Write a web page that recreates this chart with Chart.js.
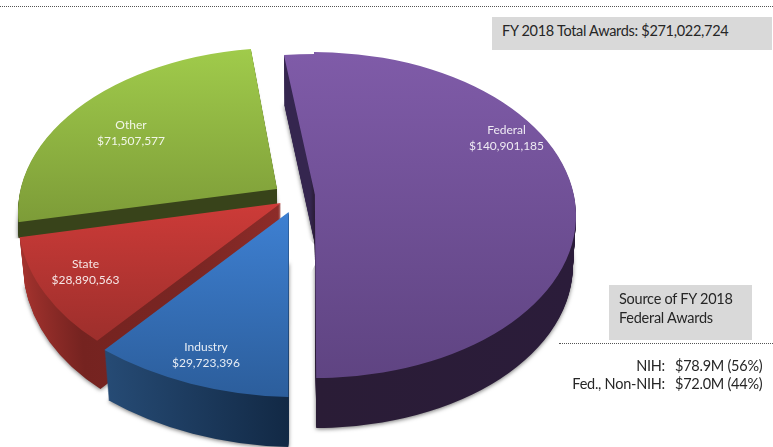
<!DOCTYPE html>
<html>
<head>
<meta charset="utf-8">
<script src="https://cdn.jsdelivr.net/npm/chart.js@4"></script>
<style>
html,body{margin:0;padding:0;background:#fff;width:773px;height:447px;overflow:hidden}
#wrap{position:relative;width:773px;height:447px;font-family:Lato,"Open Sans",sans-serif;color:#262626}
canvas{position:absolute;left:0;top:0}
.dot{position:absolute;height:0;border-top:1px dotted #555}
.box{position:absolute;background:#d9d9d9;box-sizing:border-box}
.t{position:absolute;white-space:nowrap;font-size:14.5px;line-height:18px;letter-spacing:-0.25px}
</style>
</head>
<body>
<div id="wrap">
<canvas id="c" width="773" height="447"></canvas>
<div class="dot" style="left:0;top:6px;width:773px"></div>
<div class="box" style="left:492px;top:17px;width:280px;height:33px"></div>
<div class="t" id="total" style="left:502px;top:22px;letter-spacing:-0.3px"></div>
<div class="box" style="left:609px;top:285px;width:143px;height:55px"></div>
<div class="t" id="src1" style="left:619px;top:290px"></div>
<div class="t" id="src2" style="left:619px;top:309px"></div>
<div class="dot" style="left:559px;top:343px;width:214px"></div>
<div class="t" id="f1a" style="right:108px;top:357px"></div>
<div class="t" id="f1b" style="left:675px;top:357px"></div>
<div class="t" id="f2a" style="right:108px;top:375px"></div>
<div class="t" id="f2b" style="left:675px;top:375px"></div>
</div>
<script>
const categories = ['Federal', 'Industry', 'State', 'Other'];
const awards = [140901185, 29723396, 28890563, 71507577];
const totalLabel = 'FY 2018 Total Awards: $271,022,724';
const sourceTitle = ['Source of FY 2018', 'Federal Awards'];
const fedSourceNames = ['NIH:', 'Fed., Non-NIH:'];
const fedSourceValues = ['$78.9M (56%)', '$72.0M (44%)'];

// Presentation only: how each exploded slice is projected on the page.
const sliceStyles = [
  { pieces:[
      { wedge:[-30,0.3], apex:[315,195], X:[248,0], Y:[0,141] },
      { wedge:[0,200], apex:[315,215], X:[261,0], Y:[1,163] }
    ],
    depth:50, shrink:0.012,
    grad:[54,378,'#7f5ba8','#5f4482'],
    wall:[[0,'#35264f'],[0.49,'#35264f'],[0.5,'#2a1c36'],[1,'#2b1c3a']], label:[506.5,130] },
  { pieces:[ { apex:[288.7,212], X:[289.5,7.5], Y:[-0.5,185] } ],
    depth:50, shrink:0.022,
    grad:[212,397,'#3e80d2','#2c5e9c'],
    wall:[[0,'#264b75'],[0.18,'#264b75'],[0.5,'#122945'],[1,'#122945']], label:[206,347] },
  { pieces:[ { apex:[281,203], X:[262.7,4.3], Y:[-22,182] } ],
    depth:48, shrink:0.02,
    grad:[203,341,'#cd3b38','#9e2f2c'],
    wall:[[0,'#a8342f'],[0.15,'#752320'],[0.35,'#7a2623'],[0.5,'#8e2c29'],[1,'#8e2c29']], label:[85.5,264] },
  { pieces:[ { apex:[281,210], X:[263,0], Y:[-2.9,162.3], poly:[[0,224.4],[300,186],[300,0],[0,0]] } ],
    depth:16, shrink:0,
    grad:[49,222,'#a0cb4b','#7d9c38'],
    wall:[[0,'#38431a'],[1,'#38431a']], label:[131,125] }
];
const drawOrder = [3, 2, 1, 0];
const money = v => '$' + v.toLocaleString('en-US');
const rad = d => (d - 90) * Math.PI / 180;

function paint(ctx, el, fill, p, dy, shrink) {
  const R = el.outerRadius;
  ctx.save();
  ctx.translate(0, dy);
  if (p.poly) {
    ctx.beginPath();
    p.poly.forEach((q, i) => i ? ctx.lineTo(q[0], q[1]) : ctx.moveTo(q[0], q[1]));
    ctx.closePath();
    ctx.clip();
  }
  ctx.transform(p.X[0]*shrink/R, p.X[1]*shrink/R, p.Y[0]/R, p.Y[1]/R, p.apex[0], p.apex[1]);
  ctx.translate(-el.x, -el.y);
  if (p.wedge) {
    ctx.beginPath();
    ctx.moveTo(el.x, el.y);
    ctx.arc(el.x, el.y, 4*R, rad(p.wedge[0]), rad(p.wedge[1]));
    ctx.closePath();
    ctx.clip();
  }
  const saved = el.options;
  el.options = Object.create(saved, { backgroundColor: { value: fill(ctx, el, p) } });
  el.draw(ctx);
  el.options = saved;
  ctx.restore();
}
function faceFill(s) {
  return (ctx, el, p) => {
    const R = el.outerRadius;
    const toLocal = py => el.y + (py - p.apex[1]) / p.Y[1] * R;
    const g = ctx.createLinearGradient(0, toLocal(s.grad[0]), 0, toLocal(s.grad[1]));
    g.addColorStop(0, s.grad[2]);
    g.addColorStop(1, s.grad[3]);
    return g;
  };
}
function wallFill(s) {
  return (ctx, el) => {
    const R = el.outerRadius;
    const g = ctx.createLinearGradient(el.x-R, 0, el.x+R, 0);
    s.wall.forEach(w => g.addColorStop(w[0], w[1]));
    return g;
  };
}
const projected = {
  id: 'projected',
  beforeDatasetsDraw(chart) {
    const ctx = chart.ctx;
    const arcs = chart.getDatasetMeta(0).data;
    drawOrder.forEach(i => {
      const s = sliceStyles[i], el = arcs[i];
      s.pieces.forEach(p => {
        ctx.save();
        ctx.shadowColor = 'rgba(0,0,0,0.55)';
        ctx.shadowBlur = 4;
        ctx.shadowOffsetY = 1;
        paint(ctx, el, wallFill(s), p, s.depth, 1 - s.shrink);
        ctx.restore();
      });
      for (let k = s.depth - 1; k >= 1; k--) {
        s.pieces.forEach(p => paint(ctx, el, wallFill(s), p, k, 1 - s.shrink * k / s.depth));
      }
      s.pieces.forEach(p => paint(ctx, el, faceFill(s), p, 0, 1));
    });
    ctx.save();
    ctx.fillStyle = 'rgba(255,255,255,0.88)';
    ctx.font = '12px Lato, "Open Sans", sans-serif';
    ctx.textAlign = 'center';
    ctx.textBaseline = 'middle';
    arcs.forEach((el, i) => {
      const p = sliceStyles[i].label;
      ctx.fillText(categories[i], p[0], p[1]);
      ctx.fillText(money(awards[i]), p[0], p[1] + 16);
    });
    ctx.restore();
    return false;
  }
};
new Chart(document.getElementById('c'), {
  type: 'pie',
  data: { labels: categories, datasets: [{ data: awards, backgroundColor: sliceStyles.map(s => s.grad[2]), borderWidth: 0 }] },
  options: {
    responsive: false,
    animation: false,
    rotation: -7.2,
    plugins: { legend: { display: false }, tooltip: { enabled: false } }
  },
  plugins: [projected]
});
document.getElementById('total').textContent = totalLabel;
document.getElementById('src1').textContent = sourceTitle[0];
document.getElementById('src2').textContent = sourceTitle[1];
document.getElementById('f1a').textContent = fedSourceNames[0];
document.getElementById('f2a').textContent = fedSourceNames[1];
document.getElementById('f1b').textContent = fedSourceValues[0];
document.getElementById('f2b').textContent = fedSourceValues[1];
</script>
</body>
</html>
